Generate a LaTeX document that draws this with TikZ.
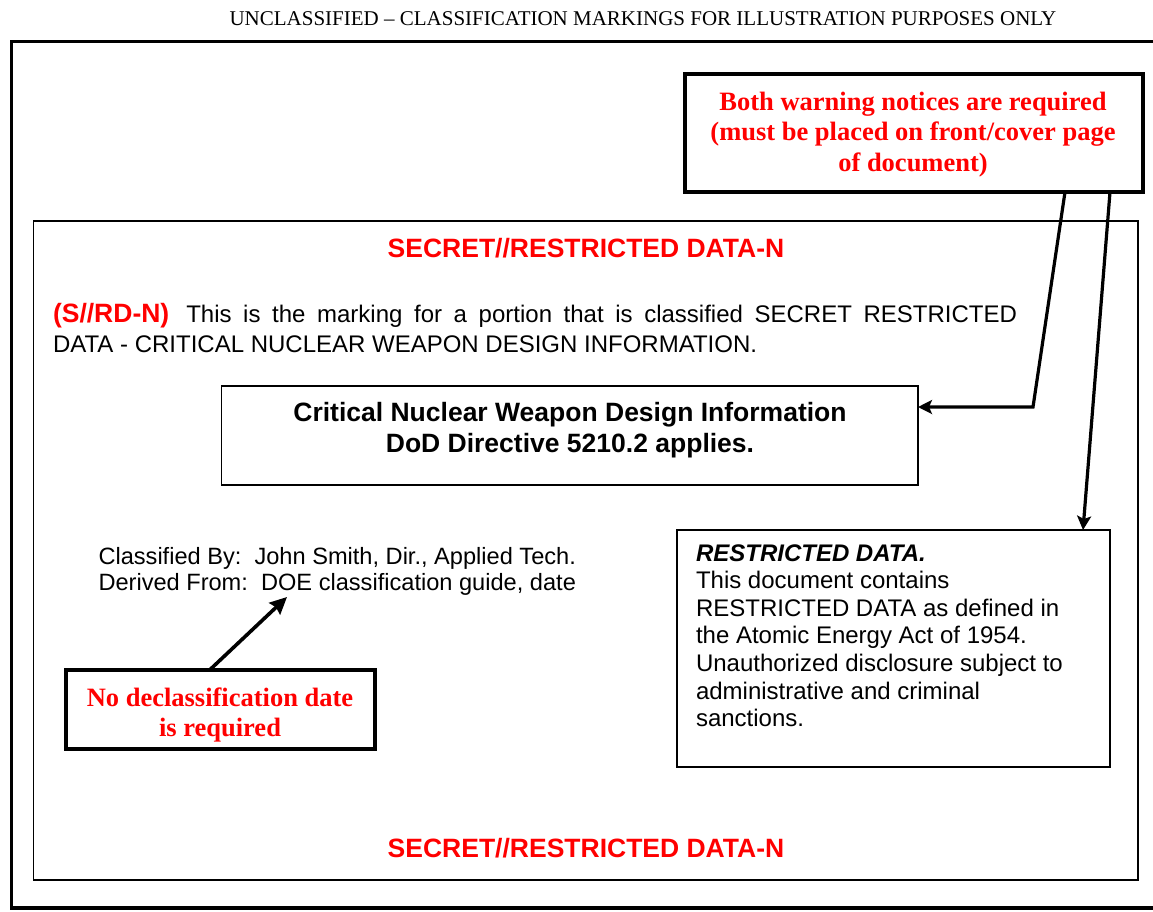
\documentclass[tikz,border=0pt]{standalone}
\usepackage{fontspec}
\setmainfont{Liberation Serif}[Ligatures={TeX,NoCommon}]
\setsansfont{Liberation Sans}[Ligatures={TeX,NoCommon}]
\usetikzlibrary{arrows.meta}
\definecolor{markred}{RGB}{255,0,0}
\newcommand{\clines}[1]{\vtop{\halign{\hfil##\hfil\cr#1\crcr}}}
\newcommand{\llines}[1]{\vtop{\halign{##\hfil\cr#1\crcr}}}
\begin{document}
\begin{tikzpicture}[x=1pt,y=-1pt,
  every node/.style={inner sep=0pt, outer sep=0pt},
  heavybox/.style={draw=black, line width=4pt},
  thinbox/.style={draw=black, line width=1.6pt},
  rdbox/.style={draw=black, line width=2.2pt},
  hdrtext/.style={font=\rmfamily\fontsize{21}{24}\selectfont},
  secrettext/.style={font=\sffamily\bfseries\fontsize{26.5}{30}\selectfont, text=markred},
  calloutText/.style={font=\rmfamily\bfseries\fontsize{26.5}{30.5}\selectfont, text=markred},
  bodytext/.style={font=\sffamily\fontsize{24}{30}\selectfont},
  cnwditext/.style={font=\sffamily\bfseries\fontsize{26.5}{31}\selectfont},
  blocktext/.style={font=\sffamily\fontsize{23.6}{26.5}\selectfont},
  rdtext/.style={font=\sffamily\fontsize{24}{27.6}\selectfont},
  conn/.style={draw=black, line width=3.2pt, line join=miter,
    -{Stealth[length=14pt,width=14pt,inset=3pt]}},
  connb/.style={draw=black, line width=3.6pt,
    -{Stealth[length=17pt,width=16pt,inset=2pt]}}]
\useasboundingbox (0,0) rectangle (1153,911);
\fill[white] (0,0) rectangle (1153,911);

% header
\node[hdrtext, anchor=base] (hdr) at (643,25)
  {UNCLASSIFIED – CLASSIFICATION MARKINGS FOR ILLUSTRATION PURPOSES ONLY};

% outer frame (runs past the right edge)
\draw[line width=3.5pt] (1170,41.7) -- (11.5,41.7) -- (11.5,908) -- (1170,908);

% inner page
\node[thinbox, minimum width=1104.4pt, minimum height=659pt] (page) at (585.5,550.5) {};

% top callout
\node[heavybox, fill=white, minimum width=458pt, minimum height=118pt] (warn) at (914,133) {};
\node[calloutText, anchor=base] (warnlbl) at (913,110)
  {\clines{Both warning notices are required\cr (must be placed on front/cover page\cr of document)}};

% banners
\node[secrettext, anchor=base] (sectop) at (586,257) {SECRET//RESTRICTED DATA-N};
\node[secrettext, anchor=base] (secbot) at (586,857) {SECRET//RESTRICTED DATA-N};

% portion marking
\node[bodytext, anchor=base west] (portion) at (53,322.7)
  {\llines{\makebox[964pt][s]{{\fontsize{26.5}{30}\selectfont\bfseries\color{markred}(S//RD-N)}\hspace{17pt}This is the marking for a portion that is classified SECRET RESTRICTED}\cr DATA - CRITICAL NUCLEAR WEAPON DESIGN INFORMATION.}};

% CNWDI box
\node[thinbox, minimum width=696.5pt, minimum height=99.3pt] (cnwdi) at (569.75,435.35) {};
\node[cnwditext, anchor=base] (cnwdilbl) at (570,421)
  {\clines{Critical Nuclear Weapon Design Information\cr DoD Directive 5210.2 applies.}};

% classification block
\node[blocktext, anchor=base west] (clsby) at (98.5,564)
  {\llines{Classified By:\ \ John Smith, Dir., Applied Tech.\cr Derived From:\ \ DOE classification guide, date}};

% declassification callout
\node[heavybox, minimum width=308.7pt, minimum height=79.3pt] (declass) at (220.3,709.3) {};
\node[calloutText, anchor=base] (declasslbl) at (220,706)
  {\clines{No declassification date\cr is required}};

% restricted data notice
\node[rdbox, minimum width=433pt, minimum height=237pt] (rd) at (893.5,648.5) {};
\node[rdtext, anchor=base west] (rdlbl) at (696,561)
  {\llines{{\bfseries\itshape RESTRICTED DATA.}\cr This document contains\cr RESTRICTED DATA as defined in\cr the Atomic Energy Act of 1954.\cr Unauthorized disclosure subject to\cr administrative and criminal\cr sanctions.}};

% connector helpers
\coordinate (a1) at (1065,0);
\coordinate (bend) at (1033,407);
\coordinate (a2) at (1110,0);
\coordinate (a3) at (1083,0);
\coordinate (d1) at (210,0);
\coordinate (dtip) at (287,597);

% connectors
\draw[conn] (warn.south -| a1) -- (bend) -- (cnwdi.east |- bend);
\draw[conn] (warn.south -| a2) -- (rd.north -| a3);
\draw[connb] (declass.north -| d1) -- (dtip);
\end{tikzpicture}
\end{document}
